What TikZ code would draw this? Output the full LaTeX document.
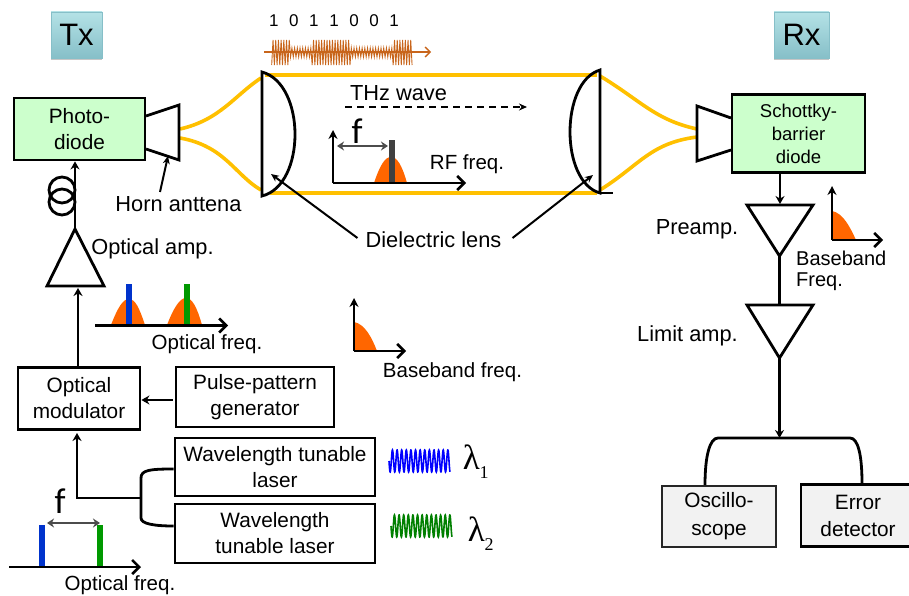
\documentclass[tikz,border=0pt]{standalone}
\usepackage{fontspec}
\setmainfont{Liberation Sans}
\newfontfamily\calfont{Carlito}
\newfontfamily\serfont{Liberation Serif}
\usetikzlibrary{arrows.meta,shadows}
\definecolor{orng}{HTML}{FF6600}
\definecolor{yel}{HTML}{FFC000}
\definecolor{pgreen}{HTML}{CCFFCC}
\definecolor{wavec}{HTML}{C8651B}
\definecolor{btop}{HTML}{B4E2E6}
\definecolor{bbot}{HTML}{86BFC8}
\definecolor{barblue}{HTML}{0033CC}
\definecolor{bargreen}{HTML}{009900}
\tikzset{
 x=1pt,y=-1pt,
 lw/.style={line width=2.8pt,black},
 box/.style={draw=black,line width=2.8pt,inner sep=0pt,align=center,font=\fontsize{20.8}{26}\selectfont},
 gbox/.style={box,fill=pgreen},
 txt/.style={inner sep=0pt,align=center,font=\fontsize{20.5}{25}\selectfont},
 txtb/.style={inner sep=0pt,align=center,font=\fontsize{21.8}{25}\selectfont},
 btn/.style={inner sep=0pt,font=\fontsize{31}{32}\selectfont,top color=btop,bottom color=bbot,
   draw=bbot,line width=.6pt,drop shadow={shadow xshift=0pt,shadow yshift=-2pt,opacity=.45}},
 conn/.style={lw,-{Stealth[length=8pt,width=9pt]}},
 line/.style={lw},
 axis/.style={line width=2.8pt,black,-{Straight Barb[length=7pt,width=14pt,line width=2.6pt]}},
 yaxis/.style={line width=2.8pt,black,-{Stealth[length=9pt,width=9pt]}},
 thin arrow/.style={line width=2pt,black,-{Stealth[length=8pt,width=7pt]}},
 farrow/.style={line width=2.4pt,black!70,{Stealth[length=7pt,width=9pt]}-{Stealth[length=7pt,width=9pt]}},
 beam/.style={line width=3.6pt,yel},
 bump/.style={fill=orng,draw=none},
 bigf/.style={inner sep=0pt,font=\fontsize{36}{36}\calfont},
 wave/.style={line width=1.6pt},
 lam/.style={inner sep=0pt,font=\fontsize{35}{35}\serfont},
}
\begin{document}
\begin{tikzpicture}
\useasboundingbox (0,0) rectangle (909,596);
% title buttons
\node[btn,minimum width=51pt,minimum height=46pt] (tx) at (76.5,35) {Tx};
\node[btn,minimum width=55pt,minimum height=46pt] (rx) at (801.5,35) {Rx};
% THz beams
\coordinate (ltop) at (261,78); \coordinate (lbot) at (261,190);
\coordinate (rtop) at (600,76); \coordinate (rbot) at (600,190);
\coordinate (lt) at (265,75); \coordinate (lb) at (270,193);
\coordinate (rt) at (597,75); \coordinate (rb) at (597,193);
\draw[beam] (lt) -- (rt); \draw[beam] (lb) -- (rb);
\coordinate (hl1) at (180,129); \coordinate (hl2) at (180,138);
\coordinate (hr1) at (697,129); \coordinate (hr2) at (697,137);
\draw[beam] (hl1) .. controls (220,120) and (235,95) .. (ltop);
\draw[beam] (hl2) .. controls (225,146) and (235,175) .. (lbot);
\draw[beam] (rtop) .. controls (640,100) and (655,120) .. (hr1);
\draw[beam] (rbot) .. controls (640,165) and (650,143) .. (hr2);
% lenses
\draw[lw] (262,72) -- (262,196) .. controls (306,185) and (306,84) .. cycle;
\draw[lw] (600,70) -- (600,193) .. controls (560,182) and (560,82) .. cycle;
\draw[lw] (600,193) -- (613,193);
% bit pattern
\node[inner sep=0pt,font=\fontsize{17}{18}\selectfont] (bits) at (334,21) {\spaceskip=10.6pt 1 0 1 1 0 0 1};
\draw[wavec,line width=1.5pt,-{Straight Barb[length=5pt,width=10pt,line width=1.3pt]}] (264,52) -- (431,52);
\draw[wavec,line width=.9pt] plot[domain=0.25:52.25,samples=105] ({271+2.7*\x},{52.5+((\x<7||(\x>14.8&&\x<29.6)||\x>45)?12.5:4.5)*sin(mod(\x,1)*360)});
% THz wave
\node[txtb] (thz) at (398.5,93) {THz wave};
\coordinate (d1) at (345,107); \coordinate (d2) at (527,107);
\draw[line width=1.6pt,dash pattern=on 7pt off 5pt,-{Stealth[length=8pt,width=7pt]}] (d1) -- (d2);
% RF plot
\fill[bump] (374,183) .. controls (380,165) and (385,157) .. (391,157) .. controls (397,157) and (402,165) .. (407,183) -- cycle;
\fill[black!75] (389,140) rectangle (394.5,183);
\coordinate (rfo) at (333,183); \coordinate (rfy) at (333,130); \coordinate (rfx) at (466,183);
\draw[yaxis] (rfo) -- (rfy);
\draw[axis] (rfo) -- (rfx);
\coordinate (rff1) at (337,146); \coordinate (rff2) at (388,146);
\draw[farrow] (rff1) -- (rff2);
\node[bigf] (f1) at (357,131) {f};
\node[txt] (rf) at (467,164) {RF freq.};
% lens label
\node[txtb] (lens) at (433.5,240) {Dielectric lens};
\coordinate (la) at (271,174); \coordinate (ra) at (593,175);
\draw[thin arrow] (lens.west) ++(-8,-2) -- (la);
\draw[thin arrow] (lens.east) ++(11,-2) -- (ra);
% Tx chain
\node[gbox,minimum width=131pt,minimum height=62pt] (pd) at (79.5,129) {Photo-\\diode};
\coordinate (h1) at (146,116); \coordinate (h2) at (179,105); \coordinate (h3) at (179,160); \coordinate (h4) at (146,149);
\draw[lw,line join=miter] (h1) -- (h2) -- (h3) -- (h4);
\node[txtb] (horn) at (178.5,204) {Horn anttena};
\coordinate (hornp) at (168,156);
\coordinate (hornt) at (160,192);
\draw[thin arrow] (hornt) -- (hornp);
\coordinate (oa1) at (75,229); \coordinate (oa2) at (104,286); \coordinate (oa3) at (47,286);
\draw[lw] (oa1) -- (oa2) -- (oa3) -- cycle;
\draw[conn] (oa1) -- (pd.south -| oa1);
\draw[lw] (62,190) circle (13); \draw[lw] (62,202) circle (13);
\node[txtb] (oalab) at (152.5,249) {Optical amp.};
\node[box,minimum width=122pt,minimum height=62pt] (mod) at (79,398.5) {Optical\\modulator};
\draw[conn] (mod.north -| 78,0) -- (78,288);
\node[box,minimum width=158pt,minimum height=60pt] (ppg) at (255,397) {Pulse-pattern\\generator};
\draw[conn] (ppg.west |- 0,400) ++(-2,0) -- (mod.east |- 0,400);
\node[box,minimum width=200pt,minimum height=58pt] (wl1) at (275,467) {Wavelength tunable\\laser};
\node[box,minimum width=200pt,minimum height=59pt] (wl2) at (275,533.5) {Wavelength\\tunable laser};
\coordinate (j) at (141,498); \coordinate (jt) at (141,478); \coordinate (jb) at (141,518);
\coordinate (mi) at (77,433);
\draw[line] (wl1.west |- 0,469) .. controls (150,469) and (141,470) .. (jt) -- (jb) .. controls (141,524) and (155,526) .. (wl2.west |- 0,526);
\draw[conn] (j) -- (77,498) -- (mi);
% optical spectrum
\fill[bump] (111,325) .. controls (118,307) and (123,299) .. (129,299) .. controls (135,299) and (139,307) .. (145,325) -- cycle;
\fill[bump] (167,325) .. controls (174,307) and (180,298) .. (186,298) .. controls (192,298) and (197,307) .. (202,325) -- cycle;
\fill[barblue] (126,284) rectangle (132,325);
\fill[bargreen] (184,284) rectangle (190,325);
\coordinate (s1) at (95,325.5); \coordinate (s2) at (228,325.5);
\draw[axis] (s1) -- (s2);
\node[txt] (of1) at (207,344) {Optical freq.};
% baseband
\fill[bump] (354,322) .. controls (365,324) and (372,338) .. (377,351) -- (354,351) -- cycle;
\coordinate (bo) at (354,351); \coordinate (by) at (354,298); \coordinate (bx) at (406,351);
\draw[yaxis] (bo) -- (by);
\draw[axis] (bo) -- (bx);
\node[txt] (bbf) at (452.5,372) {Baseband freq.};
% wavelength waves
\draw[wave,blue] plot[domain=389:450,samples=300] (\x,{461+11*sin((\x-389)*78)});
\draw[wave,green!50!black] plot[domain=391:452,samples=300] (\x,{526+11*sin((\x-391)*78)});
\node[lam] (l1) at (476,462) {λ\textsubscript{\fontsize{18}{18}\selectfont\raisebox{-5pt}{1}}};
\node[lam] (l2) at (481,534) {λ\textsubscript{\fontsize{18}{18}\selectfont\raisebox{-5pt}{2}}};
% bottom-left spectrum
\fill[barblue] (39,525) rectangle (45,567);
\fill[bargreen] (97,525) rectangle (103,567);
\coordinate (b1) at (9,567); \coordinate (b2) at (141,567);
\draw[axis] (b1) -- (b2);
\coordinate (f21) at (47,523); \coordinate (f22) at (100,523);
\draw[farrow] (f21) -- (f22);
\node[bigf] (f2) at (60,501) {f};
\node[txt] (of2) at (120,585) {Optical freq.};
% Rx chain
\coordinate (rh1) at (731,118); \coordinate (rh2) at (697,106); \coordinate (rh3) at (697,161); \coordinate (rh4) at (731,150);
\draw[lw,line join=miter] (rh1) -- (rh2) -- (rh3) -- (rh4);
\node[box,fill=pgreen,minimum width=133pt,minimum height=78pt,font=\fontsize{18.5}{23}\selectfont] (sbd) at (798.5,133.5) {Schottky-\\barrier\\diode};
\coordinate (p1) at (747,205); \coordinate (p2) at (813,205); \coordinate (p3) at (779.5,256);
\draw[lw] (p1) -- (p2) -- (p3) -- cycle;
\draw[conn] (sbd.south -| 780,0) -- (780,204);
\node[txtb] (pre) at (697,229) {Preamp.};
\coordinate (q1) at (747,305); \coordinate (q2) at (813,305); \coordinate (q3) at (779.5,358);
\draw[lw] (q1) -- (q2) -- (q3) -- cycle;
\draw[line] (p3) -- (q3 |- q1);
\node[txtb] (lim) at (687.5,336) {Limit amp.};
\coordinate (t) at (779.5,438);
\draw[conn] (q3) -- (t);
\node[box,fill=black!5,draw=black!85,line width=2pt,minimum width=114pt,minimum height=61pt,font=\fontsize{20.8}{28}\selectfont] (osc) at (719,516.5) {Oscillo-\\scope};
\node[box,fill=black!5,minimum width=114pt,minimum height=62pt,font=\fontsize{20.8}{27}\selectfont] (err) at (858,515.5) {Error\\detector};
\draw[line] (osc.north -| 705,0) .. controls (705,455) and (710,438) .. (718,438) -- (850,438) .. controls (858,438) and (862,455) .. (err.north -| 862,0);
\fill[bump] (832,211) .. controls (843,213) and (850,227) .. (856,240) -- (832,240) -- cycle;
\coordinate (ro) at (832,240); \coordinate (ry) at (832,186); \coordinate (rx2) at (883,240);
\draw[yaxis] (ro) -- (ry);
\draw[axis] (ro) -- (rx2);
\node[txt,align=left,anchor=north west,font=\fontsize{20}{21}\selectfont] (bbr) at (796,251) {Baseband\\Freq.};
\end{tikzpicture}
\end{document}
